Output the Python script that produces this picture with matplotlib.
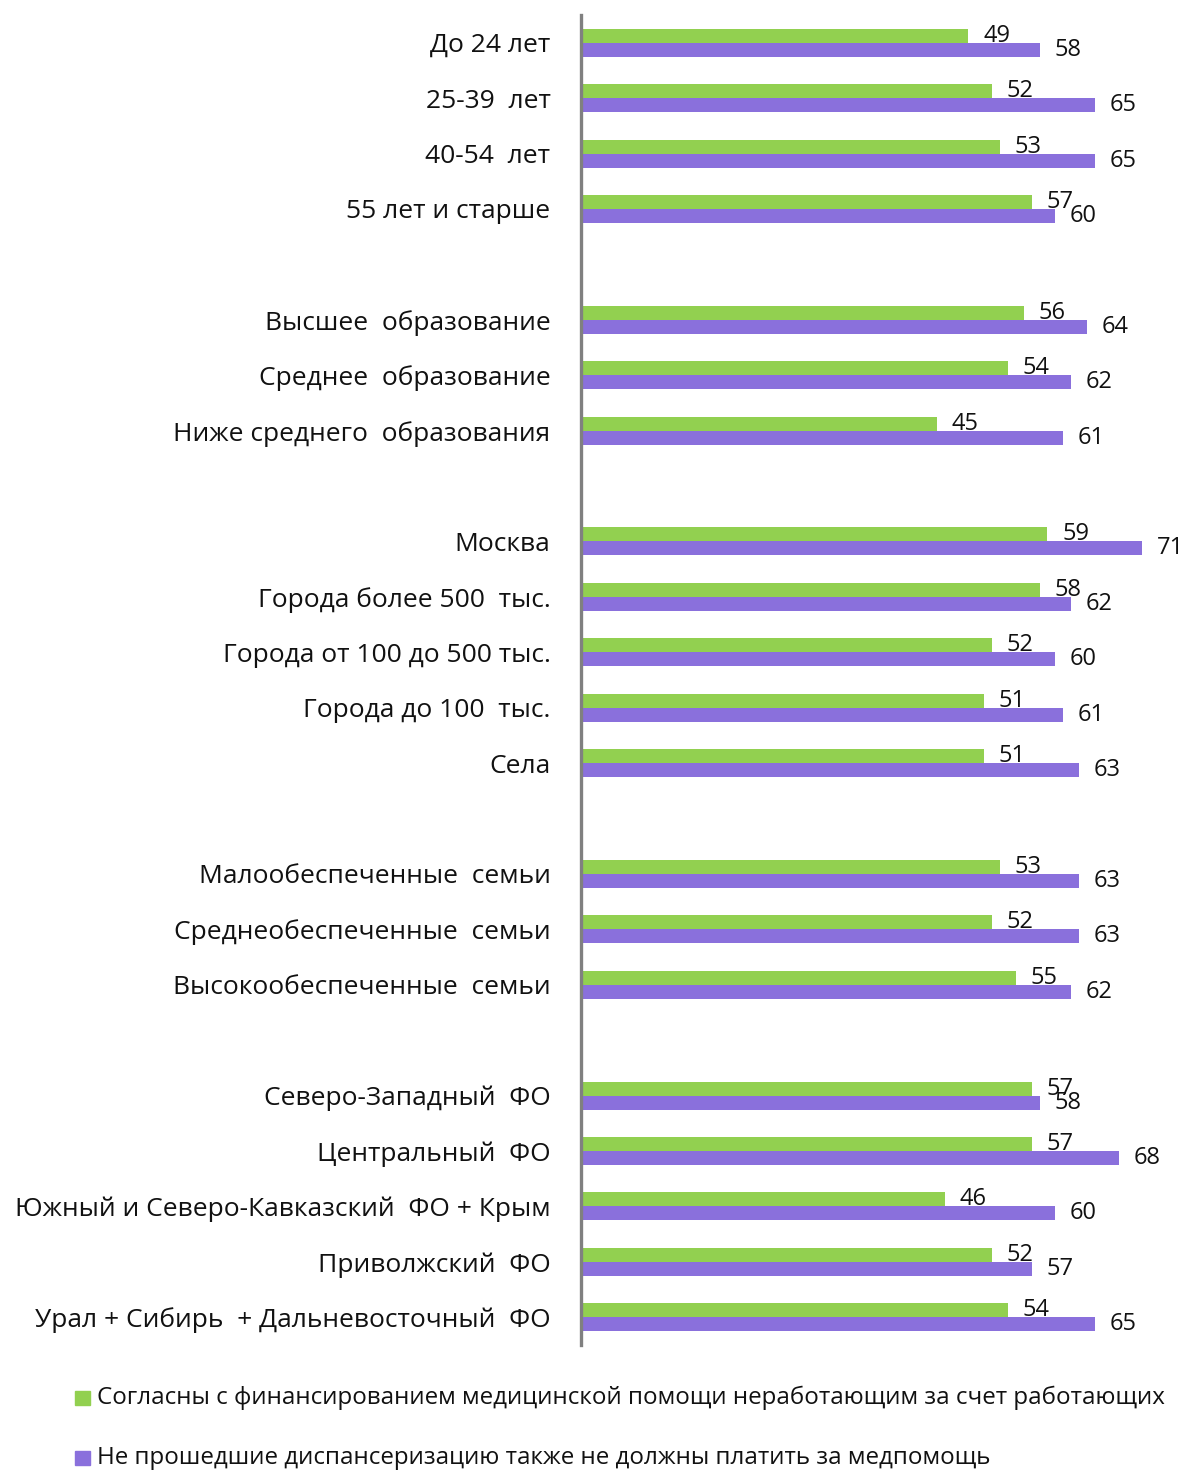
import numpy as np
import matplotlib
matplotlib.use("Agg")
import matplotlib.pyplot as plt
from matplotlib.patches import Rectangle

plt.rcParams['font.family'] = ['Open Sans', 'DejaVu Sans']

# Category labels; empty strings separate the groups
categories = [
    "До 24 лет", "25-39  лет", "40-54  лет", "55 лет и старше", "",
    "Высшее  образование", "Среднее  образование", "Ниже среднего  образования", "",
    "Москва", "Города более 500  тыс.", "Города от 100 до 500 тыс.", "Города до 100  тыс.", "Села", "",
    "Малообеспеченные  семьи", "Среднеобеспеченные  семьи", "Высокообеспеченные  семьи", "",
    "Северо-Западный  ФО", "Центральный  ФО", "Южный и Северо-Кавказский  ФО + Крым",
    "Приволжский  ФО", "Урал + Сибирь  + Дальневосточный  ФО",
]
agree = [49, 52, 53, 57, None, 56, 54, 45, None, 59, 58, 52, 51, 51, None,
         53, 52, 55, None, 57, 57, 46, 52, 54]
no_pay = [58, 65, 65, 60, None, 64, 62, 61, None, 71, 62, 60, 61, 63, None,
          63, 63, 62, None, 58, 68, 60, 57, 65]
legend_labels = [
    "Согласны с финансированием медицинской помощи неработающим за счет работающих",
    "Не прошедшие диспансеризацию также не должны платить за медпомощь",
]

green = "#92D050"
purple = "#8A70DC"

W, H = 1186, 1470
fig = plt.figure(figsize=(W / 100, H / 100), dpi=100)
ax = fig.add_axes([581 / W, 1 - 1345 / H, 593 / W, 1330 / H])

n = len(categories)
pos = np.arange(n)
h = 0.253
mask = np.array([v is not None for v in agree])
a = np.array([v if v is not None else 0 for v in agree], dtype=float)
b = np.array([v if v is not None else 0 for v in no_pay], dtype=float)

ax.barh(pos[mask] - h / 2, a[mask], height=h, color=green)
ax.barh(pos[mask] + h / 2, b[mask], height=h, color=purple)

for p, va_, vb_ in zip(pos[mask], a[mask], b[mask]):
    ax.annotate(f"{int(va_)}", (va_, p - h / 2), xytext=(10.5, 0), textcoords="offset points",
                ha="left", va="center", fontsize=17, color="#111111")
    ax.annotate(f"{int(vb_)}", (vb_, p + h / 2), xytext=(10.5, 0), textcoords="offset points",
                ha="left", va="center", fontsize=17, color="#111111")

ax.set_xlim(0, 75)
ax.set_ylim(n - 0.5, -0.5)
ax.set_yticks(pos)
ax.set_yticklabels(categories, fontsize=19, color="#111111")
ax.tick_params(axis="y", length=0, pad=22)
ax.set_xticks([])
for s in ["top", "right", "bottom"]:
    ax.spines[s].set_visible(False)
ax.spines["left"].set_color("#808080")
ax.spines["left"].set_linewidth(2.4)

# Legend: square swatches with labels underneath the chart
for (label, col, yc) in zip(legend_labels, [green, purple], [1398, 1458]):
    fig.patches.append(Rectangle((75 / W, 1 - (yc + 7) / H), 15 / W, 14 / H,
                                 transform=fig.transFigure, color=col))
    fig.text(97 / W, 1 - yc / H, label, ha="left", va="center", fontsize=17.4, color="#111111")

fig.savefig("out.png", dpi=100)
